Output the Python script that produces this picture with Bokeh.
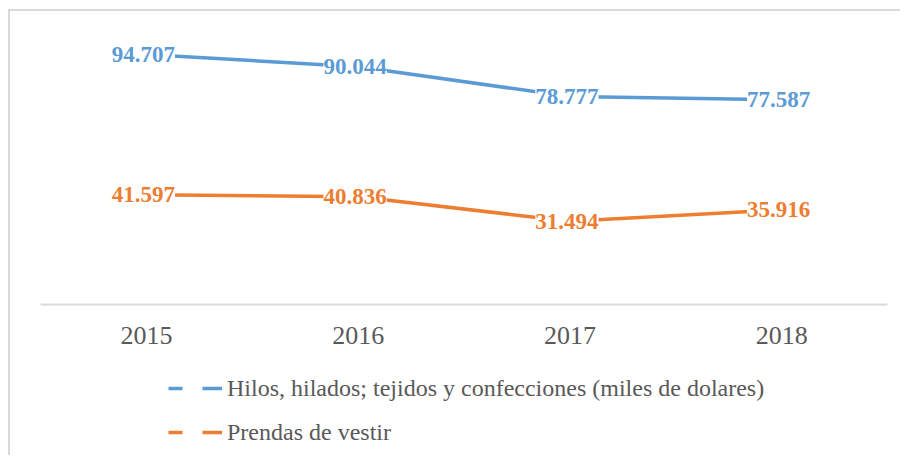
from bokeh.plotting import figure
from bokeh.layouts import column
from bokeh.models import Range1d, FactorRange, ColumnDataSource, Legend, LegendItem
from bokeh.core.properties import value
from bokeh.embed import file_html
from bokeh.resources import INLINE

years = ["2015", "2016", "2017", "2018"]
hilos = [94.707, 90.044, 78.777, 77.587]
prendas = [41.597, 40.836, 31.494, 35.916]
hilos_labels = ["94.707", "90.044", "78.777", "77.587"]
prendas_labels = ["41.597", "40.836", "31.494", "35.916"]
series_names = ["Hilos, hilados; tejidos y confecciones (miles de dolares)", "Prendas de vestir"]

BLUE = "#5B9BD5"
ORANGE = "#ED7D31"
GRAY = "#595959"
SERIF = "Liberation Serif"

# ---- main chart ----
p = figure(width=890, height=349, x_range=FactorRange(*years), y_range=Range1d(0, 100),
           output_backend="svg", toolbar_location=None,
           min_border_left=30, min_border_right=13, min_border_top=29, min_border_bottom=56)
p.outline_line_color = None
p.grid.visible = False
p.yaxis.visible = False
p.background_fill_color = "white"
p.border_fill_color = "white"

xa = p.xaxis[0]
xa.axis_line_color = "#d9d9d9"
xa.axis_line_width = 2
xa.major_tick_line_color = None
xa.minor_tick_line_color = None
xa.major_tick_out = 0
xa.major_tick_in = 0
xa.major_label_standoff = 22
xa.major_label_text_font = SERIF
xa.major_label_text_font_size = "26px"
xa.major_label_text_color = GRAY

src_h = ColumnDataSource(dict(x=years, y=hilos, t=hilos_labels))
src_p = ColumnDataSource(dict(x=years, y=prendas, t=prendas_labels))

p.line("x", "y", source=src_h, line_color=BLUE, line_width=3.5)
p.line("x", "y", source=src_p, line_color=ORANGE, line_width=3.5)

for src, col in ((src_h, BLUE), (src_p, ORANGE)):
    p.text("x", "y", text="t", source=src, text_font=value(SERIF), text_font_style="bold",
           text_font_size="23px", text_color=col, text_align="center", text_baseline="middle",
           background_fill_color="white", x_offset=-3)

# ---- legend strip ----
q = figure(width=890, height=95, x_range=Range1d(0, 890), y_range=Range1d(0, 95),
           output_backend="svg", toolbar_location=None,
           min_border_left=0, min_border_right=0, min_border_top=0, min_border_bottom=0)
q.axis.visible = False
q.grid.visible = False
q.outline_line_color = None
q.border_fill_color = "white"

idx = list(range(len(years)))
lh = q.line(x=idx, y=hilos, line_color=BLUE, line_width=3.5, line_dash="14 20 20", visible=False)
lp = q.line(x=idx, y=prendas, line_color=ORANGE, line_width=3.5, line_dash="14 20 20", visible=False)

legend = Legend(items=[LegendItem(label=series_names[0], renderers=[lh]),
                       LegendItem(label=series_names[1], renderers=[lp])],
                location=(128, 8), orientation="vertical",
                padding=0, margin=0, spacing=14, label_height=30, glyph_height=30,
                glyph_width=54, label_standoff=5,
                label_text_font=SERIF, label_text_font_size="24px", label_text_color=GRAY,
                background_fill_alpha=0, border_line_color=None)
q.add_layout(legend, "center")

layout = column(p, q, spacing=0)
layout.styles = {"border-left": "2px solid #d9d9d9", "border-top": "2px solid #d9d9d9",
                 "margin-left": "8px", "margin-top": "9px"}

open("out.html", "w").write(file_html(layout, INLINE))
